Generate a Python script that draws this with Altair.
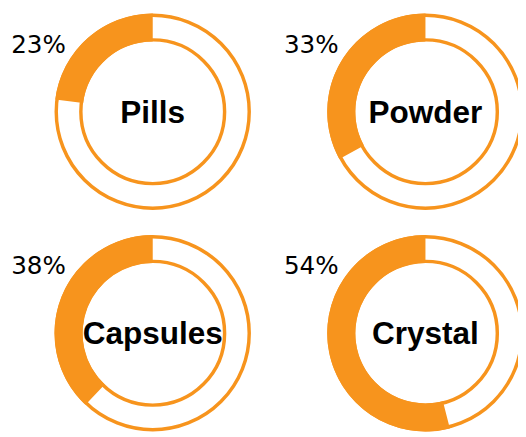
import math
import altair as alt
import pandas as pd

# ---- data ----
forms = ["Pills", "Powder", "Capsules", "Crystal"]
percents = [23, 33, 38, 54]
grid_col = [0, 1, 0, 1]
grid_row = [0, 0, 1, 1]

df = pd.DataFrame({"form": forms, "pct": percents, "col": grid_col, "row": grid_row})

ORANGE = "#F7941D"
R_OUT = 98
R_IN = 73

x_enc = alt.X("col:Q", scale=alt.Scale(domain=[0, 1], range=[147, 424]), axis=None)
y_enc = alt.Y("row:Q", scale=alt.Scale(domain=[0, 1], range=[102, 327]), axis=None)
theta_scale = alt.Scale(domain=[0, 100], range=[0, 2 * math.pi])

base = alt.Chart(df).transform_calculate(
    start="100 - datum.pct",
    end="100",
    label="datum.pct + '%'",
)

ring = base.mark_arc(
    theta=0, theta2=2 * math.pi, radius=R_OUT, radius2=R_IN,
    fill="white", stroke=ORANGE, strokeWidth=3.5,
).encode(x=x_enc, y=y_enc)

filled = base.mark_arc(
    radius=R_OUT + 1.75, radius2=R_IN - 1.75, fill=ORANGE, strokeWidth=0,
).encode(
    x=x_enc, y=y_enc,
    theta=alt.Theta("start:Q", scale=theta_scale, stack=None),
    theta2="end:Q",
)

pct_text = base.mark_text(
    font="DejaVu Sans", fontSize=25, color="black", align="center",
    baseline="middle", dx=-116, dy=-68,
).encode(x=x_enc, y=y_enc, text="label:N")

name_text = base.mark_text(
    font="Liberation Sans", fontSize=32, fontWeight="bold", color="black",
    align="center", baseline="middle", dy=1,
).encode(x=x_enc, y=y_enc, text="form:N")

chart = alt.layer(ring, filled, pct_text, name_text).properties(
    width=518, height=429,
    padding=0, autosize=alt.AutoSizeParams(type="none"),
).configure_view(stroke=None)

chart.save("out.html", embed_options={"renderer": "svg", "actions": False})
